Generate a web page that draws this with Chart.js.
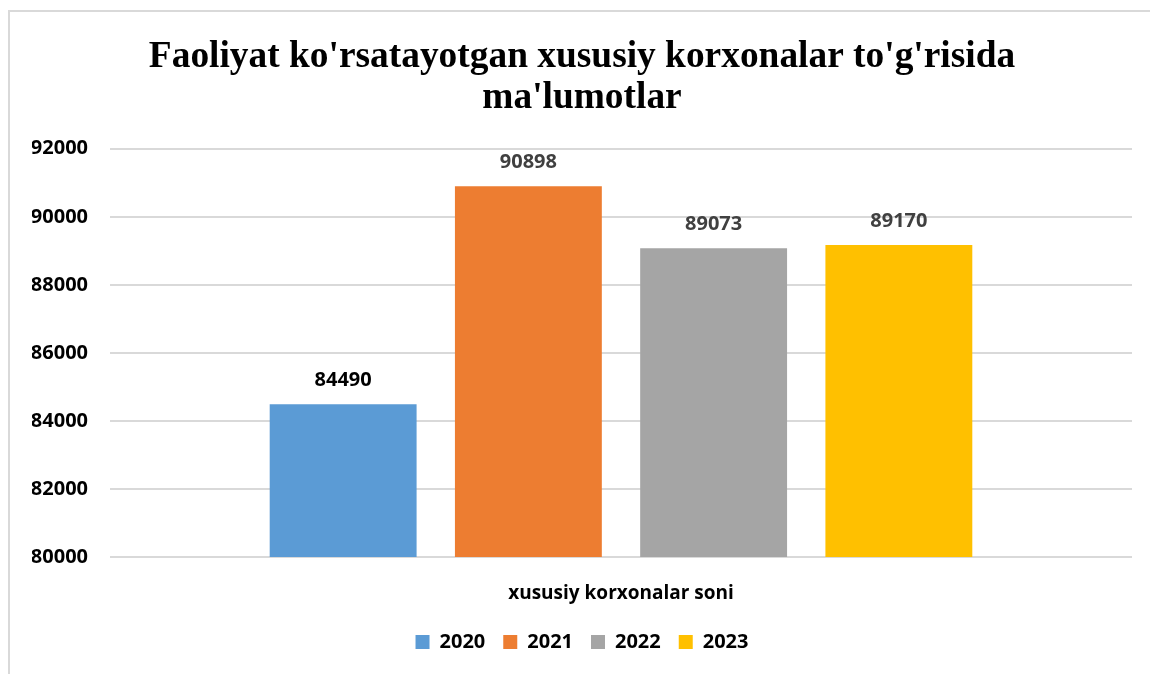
<!DOCTYPE html>
<html>
<head>
<meta charset="utf-8">
<script src="https://cdn.jsdelivr.net/npm/chart.js@4/dist/chart.umd.min.js"></script>
<style>
  html, body { margin: 0; padding: 0; background: #fff; overflow: hidden; width: 1150px; height: 674px; }
  #frame { position: absolute; left: 8px; top: 10px; width: 1200px; height: 700px;
           border-left: 2px solid #d9d9d9; border-top: 2px solid #d9d9d9; box-sizing: border-box; }
  #c { position: absolute; left: 8px; top: 10px; }
</style>
</head>
<body>
<div id="frame"></div>
<canvas id="c" width="1148" height="664"></canvas>
<script>
const titleLines = ["Faoliyat ko'rsatayotgan xususiy korxonalar to'g'risida", "ma'lumotlar"];
const categories = ["xususiy korxonalar soni"];
const years = ["2020", "2021", "2022", "2023"];
const values = [84490, 90898, 89073, 89170];
const colors = ["#5b9bd5", "#ed7d31", "#a5a5a5", "#ffc000"];
const labelColors = ["#000000", "#404040", "#404040", "#404040"];
const yMin = 80000, yMax = 92000, yStep = 2000;

const datasets = years.map((y, i) => ({
  label: y,
  data: [values[i]],
  backgroundColor: colors[i],
  borderWidth: 0,
  categoryPercentage: 0.725,
  barPercentage: 0.793
}));

const valueLabels = {
  id: 'valueLabels',
  afterDatasetsDraw(chart) {
    const ctx = chart.ctx;
    ctx.save();
    ctx.font = "bold 20px 'Open Sans'";
    ctx.textAlign = 'center';
    ctx.textBaseline = 'middle';
    chart.data.datasets.forEach((ds, i) => {
      const meta = chart.getDatasetMeta(i);
      meta.data.forEach((el, j) => {
        ctx.fillStyle = labelColors[i];
        ctx.fillText(String(ds.data[j]), el.x, el.y - 24);
      });
    });
    ctx.restore();
  }
};

new Chart(document.getElementById('c'), {
  type: 'bar',
  data: { labels: categories, datasets },
  plugins: [valueLabels],
  options: {
    responsive: false,
    devicePixelRatio: 1,
    animation: false,
    layout: { padding: { left: 24, right: 24, top: 0, bottom: 12 } },
    plugins: {
      title: {
        display: true,
        text: titleLines,
        color: '#000',
        font: { family: "'Liberation Serif'", size: 37.4, weight: 'bold', lineHeight: 1.12 },
        padding: { top: 26, bottom: 29 }
      },
      legend: {
        position: 'bottom',
        labels: {
          boxWidth: 14, boxHeight: 14, padding: 18, color: '#000',
          font: { family: "'Open Sans'", size: 20, weight: 'bold' }
        }
      },
      tooltip: { enabled: false }
    },
    scales: {
      x: {
        grid: { display: false },
        border: { display: false },
        ticks: { color: '#000', padding: 17, font: { family: "'Open Sans'", size: 19, weight: 'bold' } },
        afterFit(scale) { scale.height = 57; }
      },
      y: {
        min: yMin, max: yMax,
        ticks: { stepSize: yStep, color: '#000', padding: 22,
                 font: { family: "'Open Sans'", size: 20, weight: 'bold' },
                 callback: v => String(v) },
        grid: { color: '#d9d9d9', lineWidth: 2, drawTicks: false },
        border: { display: false },
        afterFit(scale) { scale.width = 78; }
      }
    }
  }
});
</script>
</body>
</html>
